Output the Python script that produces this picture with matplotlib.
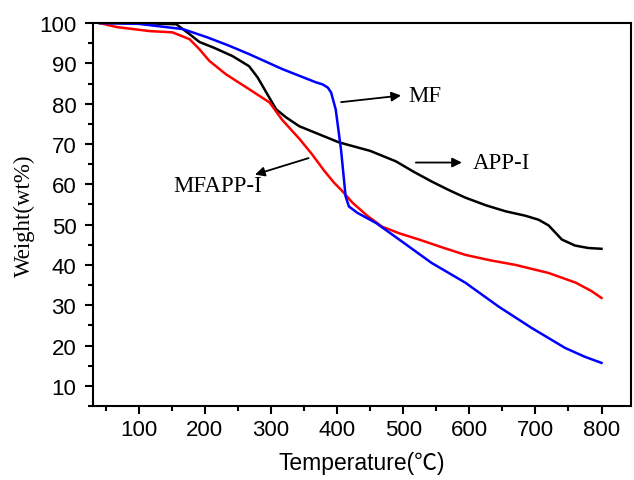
import matplotlib
matplotlib.use("Agg")
import matplotlib.pyplot as plt
from matplotlib.ticker import MultipleLocator

# APP-I (black)
app_t = [41, 100, 157, 175, 192, 215, 242, 267, 280, 293, 308, 323, 343, 373, 403, 450, 489, 515, 543, 570, 594, 625, 655, 685, 705, 720, 740, 760, 780, 800]
app_w = [100, 100, 99.7, 97.5, 95.3, 93.8, 91.8, 89.3, 86.5, 82.8, 78.6, 76.6, 74.4, 72.4, 70.4, 68.3, 65.7, 63.2, 60.7, 58.5, 56.7, 54.8, 53.3, 52.2, 51.2, 49.8, 46.3, 44.8, 44.2, 44.0]

# MFAPP-I (red)
mfapp_t = [41, 67, 117, 151, 177, 192, 207, 232, 267, 298, 317, 343, 362, 380, 395, 408, 423, 445, 468, 495, 524, 560, 594, 630, 670, 720, 761, 785, 800]
mfapp_w = [100, 99, 98, 97.7, 96, 93.5, 90.6, 87.3, 83.6, 80.3, 76, 71.3, 67.5, 63.5, 60.5, 58.3, 55.5, 52.3, 49.5, 47.8, 46.3, 44.3, 42.5, 41.2, 40, 38, 35.6, 33.5, 31.8]

# MF (blue)
mf_t = [41, 100, 167, 203, 235, 267, 317, 368, 378, 386, 391, 398, 406, 413, 418, 431, 459, 494, 543, 594, 645, 694, 745, 775, 800]
mf_w = [100, 99.8, 98.5, 96.5, 94.5, 92.3, 88.6, 85.3, 84.8, 84.0, 82.8, 78.6, 68.7, 57, 54.5, 52.9, 50.4, 46.3, 40.5, 35.6, 29.6, 24.4, 19.4, 17.2, 15.7]

fig = plt.figure(figsize=(6.34, 4.81), dpi=100)
ax = fig.add_axes([0.1467, 0.1538, 0.849, 0.7962])

ax.plot(app_t, app_w, color='black', lw=1.8)
ax.plot(mfapp_t, mfapp_w, color='#ff0000', lw=1.8)
ax.plot(mf_t, mf_w, color='#0000ff', lw=1.8)

ax.set_xlim(31, 845)
ax.set_ylim(5, 100)
ax.xaxis.set_major_locator(MultipleLocator(100))
ax.xaxis.set_minor_locator(MultipleLocator(50))
ax.yaxis.set_major_locator(MultipleLocator(10))
ax.yaxis.set_minor_locator(MultipleLocator(5))
ax.tick_params(which='major', direction='out', length=6, width=1.5, labelsize=16, pad=3)
ax.tick_params(axis='y', which='major', pad=6)
ax.tick_params(which='minor', direction='out', length=3.5, width=1.5)
ax.tick_params(top=False, right=False, which='both')
for lbl in ax.get_xticklabels() + ax.get_yticklabels():
    lbl.set_family(['Liberation Sans', 'DejaVu Sans'])
for s in ax.spines.values():
    s.set_linewidth(1.5)

ax.set_xlabel('Temperature(℃)', fontsize=16.5, family=['Liberation Sans', 'Noto Sans CJK SC'], labelpad=8)
ax.set_ylabel('Weight(wt%)', fontsize=16.5, family=['Liberation Serif', 'DejaVu Serif'], labelpad=3)

serif = ['Liberation Serif', 'DejaVu Serif']
ax.annotate('', xy=(501, 82.1), xytext=(402, 80.3),
            arrowprops=dict(arrowstyle='-|>', color='black', lw=1.3, mutation_scale=14))
ax.text(508, 82.1, 'MF', fontsize=16.5, family=serif, va='center', ha='left')

ax.annotate('', xy=(593, 65.4), xytext=(515, 65.4),
            arrowprops=dict(arrowstyle='-|>', color='black', lw=1.3, mutation_scale=14))
ax.text(606, 65.4, 'APP-I', fontsize=16.5, family=serif, va='center', ha='left')

ax.annotate('', xy=(272, 62.2), xytext=(361, 66.7),
            arrowprops=dict(arrowstyle='-|>', color='black', lw=1.3, mutation_scale=14))
ax.text(219, 59.6, 'MFAPP-I', fontsize=16.5, family=serif, va='center', ha='center')

fig.savefig('out.png', dpi=100)
